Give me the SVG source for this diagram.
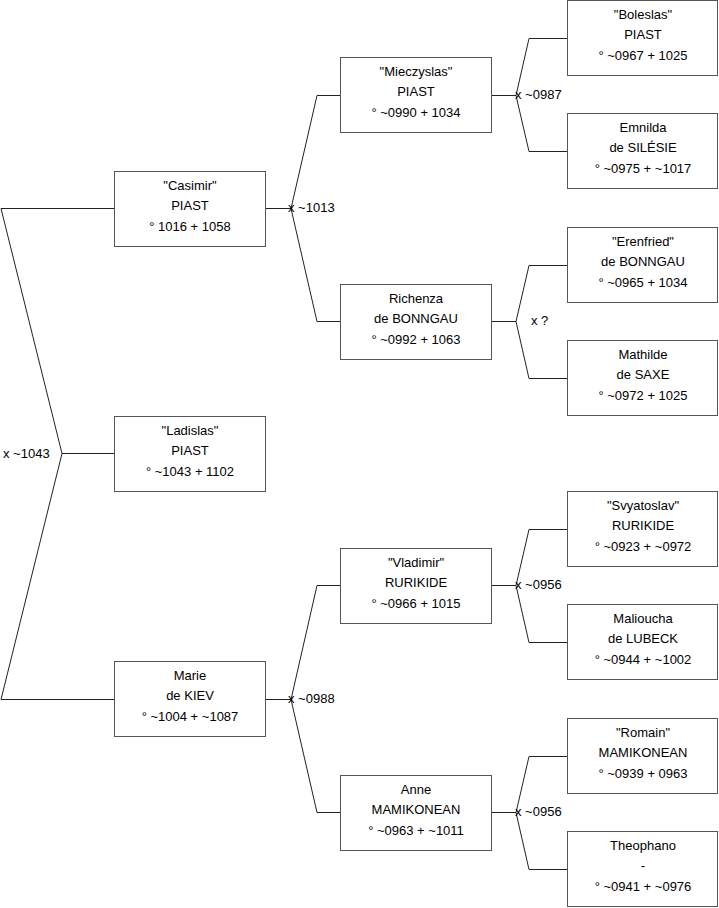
<svg xmlns="http://www.w3.org/2000/svg" width="719" height="908" viewBox="0 0 719 908">
<style>
.b{fill:#fff;stroke:#555;stroke-width:1}
.t{font-family:"Liberation Sans",Arial,sans-serif;font-size:13px;fill:#000;text-anchor:middle}
.l{font-family:"Liberation Sans",Arial,sans-serif;font-size:13px;fill:#000}
.c{fill:none;stroke:#222;stroke-width:1}
</style>
<rect width="719" height="908" fill="#fff"/>
<g id="connectors">
<path class="c" d="M1,208.5H114.5 M1,208.5L62,453.5 L1,699.5H114.5 M62,453.5H114.5"/>
<path class="c" d="M265.5,208.5H291 L317,95.5H340.5 M291,208.5L317,321.5H340.5"/>
<path class="c" d="M265.5,699.5H291 L317,585.5H340.5 M291,699.5L317,812.5H340.5"/>
<path class="c" d="M491.5,95.5H516 L529,38.5H567.5 M516,95.5L529,151.5H567.5"/>
<path class="c" d="M491.5,321.5H516 L529,265.5H567.5 M516,321.5L529,378.5H567.5"/>
<path class="c" d="M491.5,585.5H516 L529,529.5H567.5 M516,585.5L529,642.5H567.5"/>
<path class="c" d="M491.5,812.5H516 L529,756.5H567.5 M516,812.5L529,869.5H567.5"/>
<text class="l" x="3" y="458">x ~1043</text>
<text class="l" x="288" y="212">x ~1013</text>
<text class="l" x="288" y="703">x ~0988</text>
<text class="l" x="515" y="99">x ~0987</text>
<text class="l" x="531" y="325">x ?</text>
<text class="l" x="515" y="589">x ~0956</text>
<text class="l" x="515" y="816">x ~0956</text>
</g>
<g id="casimir"><rect class="b" x="114.5" y="171.5" width="151" height="75"/><text class="t" x="190" y="190">"Casimir"</text><text class="t" x="190" y="210">PIAST</text><text class="t" x="190" y="231">° 1016 + 1058</text></g>
<g id="ladislas"><rect class="b" x="114.5" y="416.5" width="151" height="75"/><text class="t" x="190" y="435">"Ladislas"</text><text class="t" x="190" y="455">PIAST</text><text class="t" x="190" y="476">° ~1043 + 1102</text></g>
<g id="marie"><rect class="b" x="114.5" y="661.5" width="151" height="75"/><text class="t" x="190" y="680">Marie</text><text class="t" x="190" y="700">de KIEV</text><text class="t" x="190" y="721">° ~1004 + ~1087</text></g>
<g id="mieczyslas"><rect class="b" x="340.5" y="57.5" width="151" height="75"/><text class="t" x="416" y="76">"Mieczyslas"</text><text class="t" x="416" y="96">PIAST</text><text class="t" x="416" y="117">° ~0990 + 1034</text></g>
<g id="richenza"><rect class="b" x="340.5" y="284.5" width="151" height="75"/><text class="t" x="416" y="303">Richenza</text><text class="t" x="416" y="323">de BONNGAU</text><text class="t" x="416" y="344">° ~0992 + 1063</text></g>
<g id="vladimir"><rect class="b" x="340.5" y="548.5" width="151" height="75"/><text class="t" x="416" y="567">"Vladimir"</text><text class="t" x="416" y="587">RURIKIDE</text><text class="t" x="416" y="608">° ~0966 + 1015</text></g>
<g id="anne"><rect class="b" x="340.5" y="775.5" width="151" height="75"/><text class="t" x="416" y="794">Anne</text><text class="t" x="416" y="814">MAMIKONEAN</text><text class="t" x="416" y="835">° ~0963 + ~1011</text></g>
<g id="boleslas"><rect class="b" x="567.5" y="0.5" width="150" height="75"/><text class="t" x="643" y="19">"Boleslas"</text><text class="t" x="643" y="39">PIAST</text><text class="t" x="643" y="60">° ~0967 + 1025</text></g>
<g id="emnilda"><rect class="b" x="567.5" y="113.5" width="150" height="75"/><text class="t" x="643" y="132">Emnilda</text><text class="t" x="643" y="152">de SILÉSIE</text><text class="t" x="643" y="173">° ~0975 + ~1017</text></g>
<g id="erenfried"><rect class="b" x="567.5" y="227.5" width="150" height="75"/><text class="t" x="643" y="246">"Erenfried"</text><text class="t" x="643" y="266">de BONNGAU</text><text class="t" x="643" y="287">° ~0965 + 1034</text></g>
<g id="mathilde"><rect class="b" x="567.5" y="340.5" width="150" height="75"/><text class="t" x="643" y="359">Mathilde</text><text class="t" x="643" y="379">de SAXE</text><text class="t" x="643" y="400">° ~0972 + 1025</text></g>
<g id="svyatoslav"><rect class="b" x="567.5" y="491.5" width="150" height="75"/><text class="t" x="643" y="510">"Svyatoslav"</text><text class="t" x="643" y="530">RURIKIDE</text><text class="t" x="643" y="551">° ~0923 + ~0972</text></g>
<g id="malioucha"><rect class="b" x="567.5" y="604.5" width="150" height="75"/><text class="t" x="643" y="623">Malioucha</text><text class="t" x="643" y="643">de LUBECK</text><text class="t" x="643" y="664">° ~0944 + ~1002</text></g>
<g id="romain"><rect class="b" x="567.5" y="718.5" width="150" height="75"/><text class="t" x="643" y="737">"Romain"</text><text class="t" x="643" y="757">MAMIKONEAN</text><text class="t" x="643" y="778">° ~0939 + 0963</text></g>
<g id="theophano"><rect class="b" x="567.5" y="831.5" width="150" height="75"/><text class="t" x="643" y="850">Theophano</text><text class="t" x="643" y="870">-</text><text class="t" x="643" y="891">° ~0941 + ~0976</text></g>
</svg>
